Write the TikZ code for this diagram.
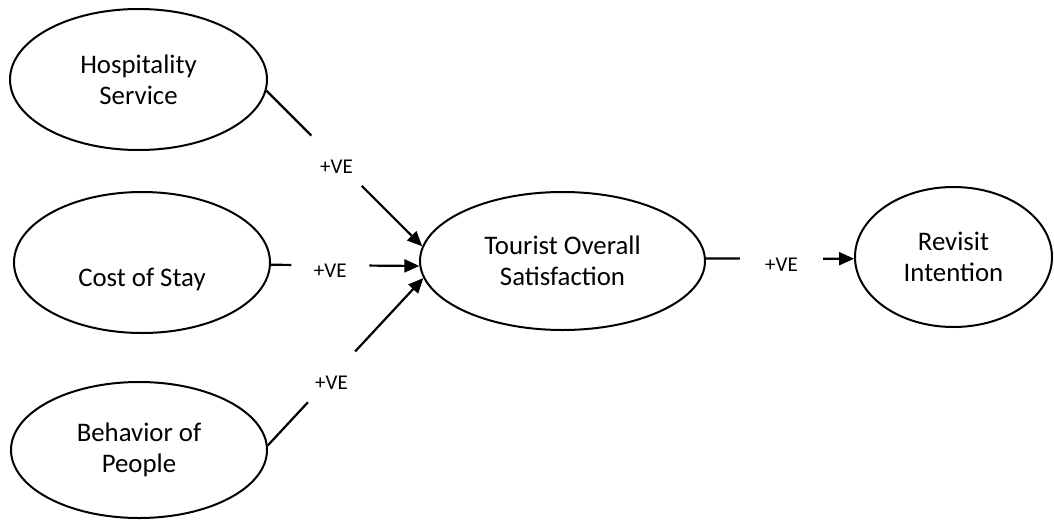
\documentclass[tikz,border=0pt]{standalone}
\usepackage{fontspec}
\setmainfont{Carlito}
\usetikzlibrary{shapes.geometric,arrows.meta}

\begin{document}
\begin{tikzpicture}[x=1pt,y=-1pt,
	construct/.style={draw,ellipse,line width=2pt,inner sep=0pt,align=center,font=\fontsize{26.8}{31}\selectfont},
	effect/.style={line width=2.2pt,-{Triangle[length=15pt,width=13pt]}},
	sign/.style={circle,fill=white,inner sep=0pt,text height=25pt,text depth=0pt,font=\fontsize{21}{24}\selectfont}]
\useasboundingbox (0,0) rectangle (1054,522);
\node[construct,minimum width=257pt,minimum height=141pt] (hosp) at (138.5,79.5) {Hospitality\\Service};
\node[construct,minimum width=256pt,minimum height=141pt] (cost) at (142,262.5) {\strut\\Cost of Stay};
\node[construct,minimum width=256pt,minimum height=136pt] (behav) at (139,450) {Behavior of\\People};
\node[construct,minimum width=285pt,minimum height=138pt] (tos) at (562.5,261) {Tourist Overall\\Satisfaction};
\node[construct,minimum width=197pt,minimum height=140pt] (rev) at (953.5,257) {Revisit\\Intention};
\foreach \from/\to/\p/\g in {hosp.-5.6/tos.174.3/0.45/71pt,cost.-1.1/tos.182/0.4/78pt,behav.2.2/tos.187.4/0.41/69pt,tos.1/rev.181/0.51/83pt}
	\draw[effect] (\from) -- node[sign,pos=\p,minimum size=\g] {+VE} (\to);
\end{tikzpicture}
\end{document}
